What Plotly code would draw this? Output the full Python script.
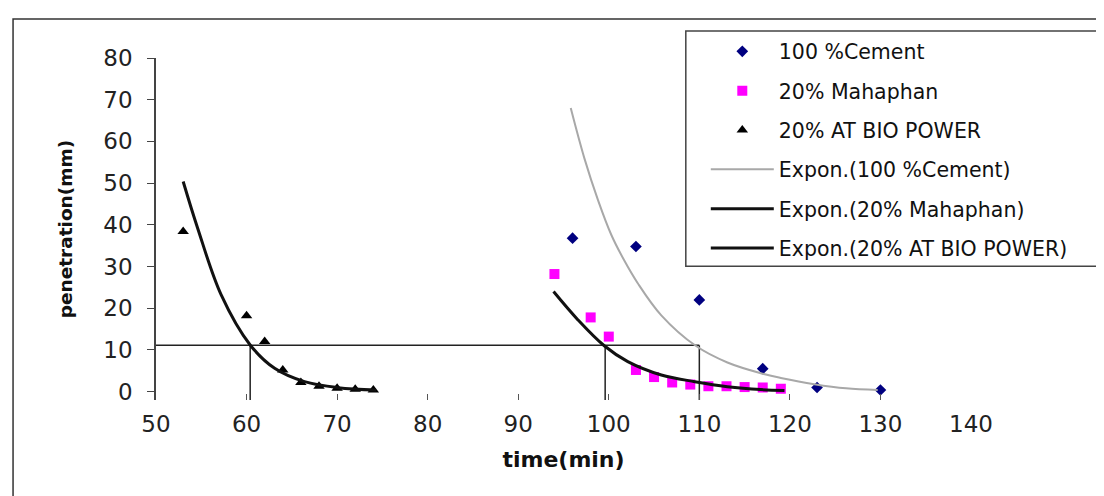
import plotly.graph_objects as go

# ---------------- data ----------------
cement_x = [96, 103, 110, 117, 123, 130]
cement_y = [36.8, 34.8, 22.0, 5.5, 1.0, 0.4]

mahaphan_x = [94, 98, 100, 103, 105, 107, 109, 111, 113, 115, 117, 119]
mahaphan_y = [28.2, 17.8, 13.2, 5.2, 3.5, 2.2, 1.7, 1.3, 1.3, 1.1, 1.0, 0.7]

bio_x = [53, 60, 62, 64, 66, 68, 70, 72, 74]
bio_y = [38.4, 18.2, 12.0, 5.2, 2.2, 1.3, 0.8, 0.6, 0.4]

# exponential trend lines as they appear in the picture
cement_trend_x = [95.8, 97.3, 98.8, 100.3, 101.7, 103.2, 105.8, 109.6, 113.1, 117.0, 119.0, 122.7, 126.2, 129.7]
cement_trend_y = [68.0, 56.0, 46.0, 37.5, 31.5, 26.0, 18.3, 11.0, 7.0, 4.3, 3.3, 1.8, 0.8, 0.4]

mahaphan_trend_x = [93.9, 96.6, 99.5, 102.1, 105.8, 109.5, 113.1, 116.8, 119.4]
mahaphan_trend_y = [24.0, 17.2, 11.0, 7.2, 4.0, 2.4, 1.2, 0.5, 0.3]

bio_trend_x = [53.0, 54.6, 57.2, 60.4, 63.1, 66.4, 70.1, 74.3]
bio_trend_y = [50.4, 39.2, 23.2, 11.2, 5.6, 2.4, 0.96, 0.4]

# guide lines at penetration ~11 mm
guide_level = 11.1
guide_h_x = [50, 110]
guide_v_x = [60.4, 99.6, 110]
guide_v_bottom = -2

x_ticks = [50, 60, 70, 80, 90, 100, 110, 120, 130, 140]
y_ticks = [0, 10, 20, 30, 40, 50, 60, 70, 80]

FONT = "DejaVu Sans, Verdana, sans-serif"

fig = go.Figure()

# scatter series
fig.add_trace(go.Scatter(x=cement_x, y=cement_y, mode="markers", name="100 %Cement",
                         legendgroup="a",
                         marker=dict(symbol="diamond", size=9, color="#000080")))
fig.add_trace(go.Scatter(x=mahaphan_x, y=mahaphan_y, mode="markers", name="20% Mahaphan",
                         legendgroup="b",
                         marker=dict(symbol="square", size=10, color="#FF00FF")))
fig.add_trace(go.Scatter(x=bio_x, y=bio_y, mode="markers", name="20% AT BIO POWER",
                         legendgroup="c",
                         marker=dict(symbol="triangle-up", size=10, color="#000000")))

# guide lines
fig.add_trace(go.Scatter(x=guide_h_x, y=[guide_level, guide_level], mode="lines",
                         line=dict(color="#222222", width=1.5), showlegend=False, hoverinfo="skip"))
for gx in guide_v_x:
    fig.add_trace(go.Scatter(x=[gx, gx], y=[guide_level, guide_v_bottom], mode="lines",
                             line=dict(color="#222222", width=1.5), showlegend=False, hoverinfo="skip"))

# trend lines
fig.add_trace(go.Scatter(x=cement_trend_x, y=cement_trend_y, mode="lines", name="Expon.(100 %Cement)",
                         legendgroup="d",
                         line=dict(color="#A8A8A8", width=2, shape="spline")))
fig.add_trace(go.Scatter(x=mahaphan_trend_x, y=mahaphan_trend_y, mode="lines", name="Expon.(20% Mahaphan)",
                         legendgroup="e",
                         line=dict(color="#111111", width=3, shape="spline")))
fig.add_trace(go.Scatter(x=bio_trend_x, y=bio_trend_y, mode="lines", name="Expon.(20% AT BIO POWER)",
                         legendgroup="f",
                         line=dict(color="#111111", width=3, shape="spline")))

# plot area geometry (pixels)
W, H = 1104, 496
L, R, T, B = 148, 963.3, 50, 391.7
pw, ph = R - L, B - T

def px(xp):
    return (xp - L) / pw

def py(yp):
    return (B - yp) / ph

fig.update_layout(
    width=W, height=H,
    margin=dict(l=L, r=W - R, t=T, b=H - B, autoexpand=False),
    paper_bgcolor="white", plot_bgcolor="white",
    font=dict(family=FONT, color="#111111", size=20),
    showlegend=True,
    legend=dict(
        x=px(698), y=py(23.5), xanchor="left", yanchor="top",
        bgcolor="rgba(0,0,0,0)", borderwidth=0,
        font=dict(family=FONT, size=20.5, color="#111111"),
        traceorder="grouped", tracegroupgap=9.7,
        itemwidth=63, maxheight=400,
    ),
    xaxis=dict(
        range=[50, 140], tickvals=x_ticks, ticktext=[str(v) for v in x_ticks],
        showgrid=False, zeroline=False, showline=False, automargin=False,
        ticks="inside", ticklen=6, tickwidth=1, tickcolor="#555555",
        tickfont=dict(family=FONT, size=23, color="#222222"),
        ticklabelstandoff=8,
        title=dict(text="<b>time(min)</b>", font=dict(family=FONT, size=22, color="#111111"), standoff=15),
    ),
    yaxis=dict(
        range=[-2, 80], tickvals=y_ticks, ticktext=[str(v) for v in y_ticks],
        showgrid=False, zeroline=False, showline=True, linecolor="#444444", linewidth=1.5,
        automargin=False,
        ticks="outside", ticklen=7, tickwidth=1.2, tickcolor="#444444",
        tickfont=dict(family=FONT, size=23, color="#222222"),
        ticklabelstandoff=10,
        title=dict(text="<b>penetration(mm)</b>", font=dict(family=FONT, size=18.5, color="#111111"), standoff=26),
    ),
    shapes=[
        # outer chart border
        dict(type="rect", xref="paper", yref="paper",
             x0=px(5), x1=px(1112), y0=py(11), y1=py(520),
             line=dict(color="#333333", width=1.5), fillcolor="rgba(0,0,0,0)", layer="below"),
        # legend box
        dict(type="rect", xref="paper", yref="paper",
             x0=px(678), x1=px(1096), y0=py(258), y1=py(23),
             line=dict(color="#444444", width=1.5), fillcolor="white", layer="below"),
    ],
)

fig.write_html("out.html")
